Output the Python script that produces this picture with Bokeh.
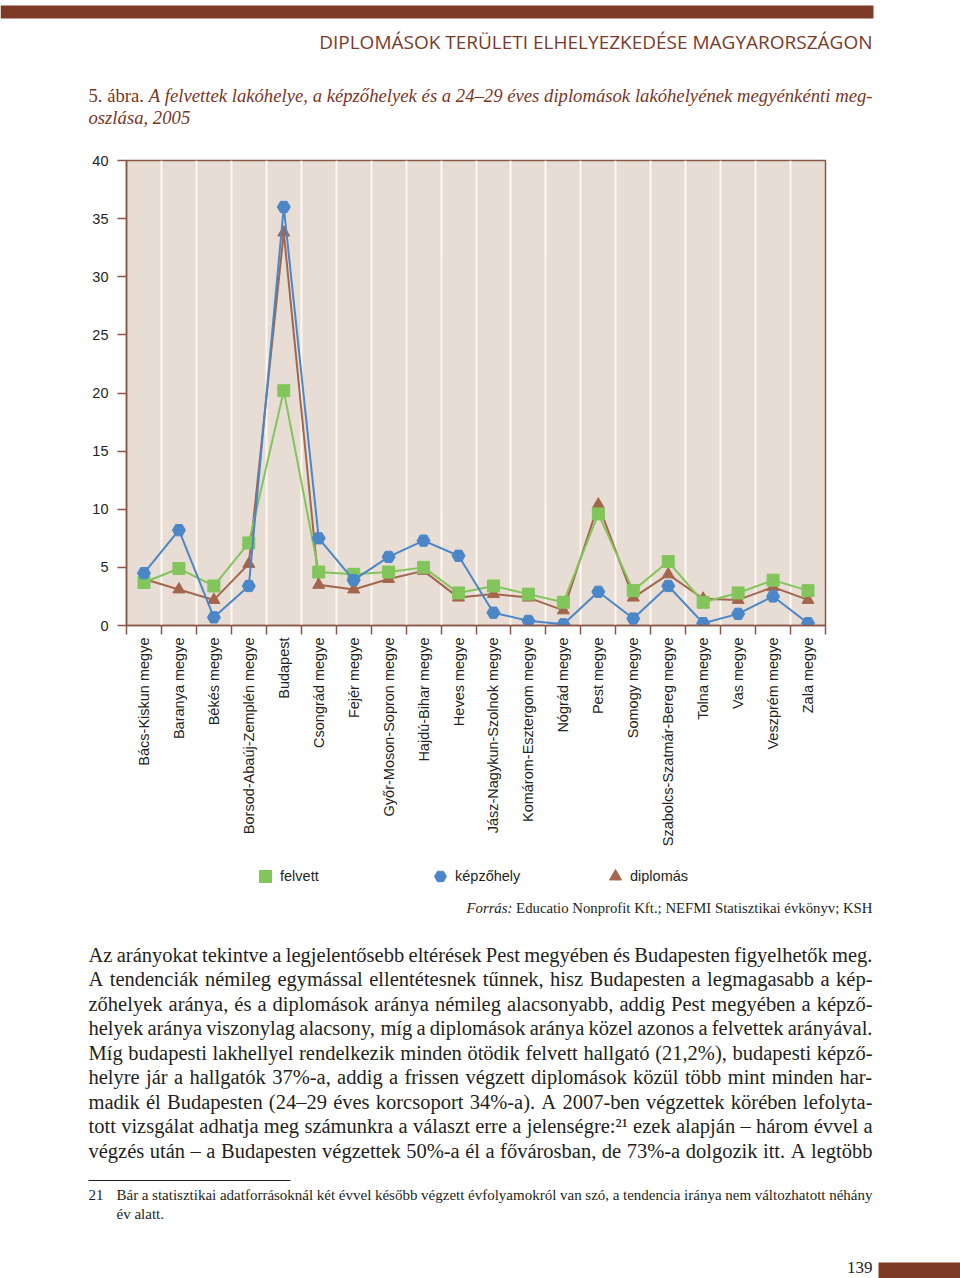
import unicodedata
import numpy as np
from bokeh.plotting import figure
from bokeh.models import Range1d, FixedTicker, Legend, LegendItem
from bokeh.layouts import column
from bokeh.core.properties import value
from bokeh.embed import file_html
from bokeh.resources import INLINE

# ---------------- data ----------------
counties = ["Bács-Kiskun megye", "Baranya megye", "Békés megye", "Borsod-Abaúj-Zemplén megye",
            "Budapest", "Csongrád megye", "Fejér megye", "Győr-Moson-Sopron megye",
            "Hajdú-Bihar megye", "Heves megye", "Jász-Nagykun-Szolnok megye",
            "Komárom-Esztergom megye", "Nógrád megye", "Pest megye", "Somogy megye",
            "Szabolcs-Szatmár-Bereg megye", "Tolna megye", "Vas megye", "Veszprém megye",
            "Zala megye"]
felvett = [3.7, 4.9, 3.4, 7.1, 20.2, 4.6, 4.4, 4.6, 5.0, 2.8, 3.4, 2.7, 2.0, 9.6, 3.0, 5.5, 2.0, 2.8, 3.9, 3.0]
kepzohely = [4.5, 8.2, 0.7, 3.4, 36.0, 7.5, 3.9, 5.9, 7.3, 6.0, 1.1, 0.4, 0.1, 2.9, 0.6, 3.4, 0.2, 1.0, 2.5, 0.2]
diplomas = [4.0, 3.1, 2.2, 5.3, 33.8, 3.5, 3.1, 4.0, 4.7, 2.4, 2.7, 2.4, 1.3, 10.4, 2.4, 4.4, 2.3, 2.2, 3.3, 2.2]
series_names = ["felvett", "képzőhely", "diplomás"]
y_ticks = [0, 5, 10, 15, 20, 25, 30, 35, 40]

running_head = "DIPLOMÁSOK TERÜLETI ELHELYEZKEDÉSE MAGYARORSZÁGON"
caption_lead = "5. ábra."
caption_line1 = "A felvettek lakóhelye, a képzőhelyek és a 24–29 éves diplomások lakóhelyének megyénkénti meg-"
caption_line2 = "oszlása, 2005"
source_lead = "Forrás:"
source_rest = "Educatio Nonprofit Kft.; NEFMI Statisztikai évkönyv; KSH"
body_lines = [
    "Az arányokat tekintve a legjelentősebb eltérések Pest megyében és Budapesten figyelhetők meg.",
    "A tendenciák némileg egymással ellentétesnek tűnnek, hisz Budapesten a legmagasabb a kép-",
    "zőhelyek aránya, és a diplomások aránya némileg alacsonyabb, addig Pest megyében a képző-",
    "helyek aránya viszonylag alacsony, míg a diplomások aránya közel azonos a felvettek arányával.",
    "Míg budapesti lakhellyel rendelkezik minden ötödik felvett hallgató (21,2%), budapesti képző-",
    "helyre jár a hallgatók 37%-a, addig a frissen végzett diplomások közül több mint minden har-",
    "madik él Budapesten (24–29 éves korcsoport 34%-a). A 2007-ben végzettek körében lefolyta-",
    "tott vizsgálat adhatja meg számunkra a választ erre a jelenségre:²¹ ezek alapján – három évvel a",
    "végzés után – a Budapesten végzettek 50%-a él a fővárosban, de 73%-a dolgozik itt. A legtöbb",
]
footnote_num = "21"
footnote_lines = [
    "Bár a statisztikai adatforrásoknál két évvel később végzett évfolyamokról van szó, a tendencia iránya nem változhatott néhány",
    "év alatt.",
]
page_number = "139"

# ---------------- style ----------------
W = 960
GREEN = "#82c55b"
BLUE = "#4a86c8"
BROWN = "#a3654c"
AXIS = "#8a5646"
BG = "#e8ddd5"
GRID = "#fdf8f0"
BAR = "#7d3b27"
DARK_RED = "#7a3624"
TEXT = "#231f20"
SANS = "Liberation Sans"
SERIF = "Liberation Serif"

# Times / Liberation Serif advance widths (1/1000 em)
TR = dict(zip(" !%(),-./0123456789:;?", [250, 333, 833, 333, 333, 250, 333, 250, 278] + [500] * 10 + [278, 278, 444]))
TR.update(dict(zip("ABCDEFGHIJKLMNOPQRSTUVWXYZ",
                   [722, 667, 667, 722, 611, 556, 722, 722, 333, 389, 722, 611, 889, 722, 722, 556, 722, 667, 556, 611, 722, 722, 944, 722, 722, 611])))
TR.update(dict(zip("abcdefghijklmnopqrstuvwxyz",
                   [444, 500, 444, 500, 444, 333, 500, 500, 278, 278, 500, 278, 778, 500, 500, 500, 500, 333, 389, 278, 500, 500, 722, 500, 500, 444])))
TR.update({"–": 500, "²": 300, "¹": 300})
TI = dict(TR)
TI.update({":": 333, ";": 333})
TI.update(dict(zip("ABCDEFGHIJKLMNOPQRSTUVWXYZ",
                   [611, 611, 667, 722, 611, 611, 722, 722, 333, 444, 667, 556, 833, 667, 722, 611, 722, 611, 500, 556, 722, 611, 833, 611, 556, 556])))
TI.update(dict(zip("abcdefghijklmnopqrstuvwxyz",
                   [500, 500, 444, 500, 444, 278, 500, 500, 278, 278, 444, 278, 722, 500, 500, 500, 500, 389, 389, 278, 500, 444, 667, 444, 444, 389])))


def em_width(s, italic=False):
    tbl = TI if italic else TR
    tot = 0
    for ch in s:
        base = unicodedata.normalize("NFD", ch)[0]
        tot += tbl.get(ch, tbl.get(base, 500))
    return tot / 1000.0


def place_words(fig, words, x0, x1, y, size, color, justify=True, font=SERIF):
    widths = [em_width(w, it) * size for w, it in words]
    if justify and len(words) > 1:
        gap = (x1 - x0 - sum(widths)) / (len(words) - 1)
    else:
        gap = 0.25 * size
    xs, x = [], x0
    for wd in widths:
        xs.append(x)
        x += wd + gap
    for it in (False, True):
        idx = [i for i, (_, s) in enumerate(words) if s == it]
        if not idx:
            continue
        fig.text(x=[xs[i] for i in idx], y=[y] * len(idx), text=[words[i][0] for i in idx],
                 text_font=value(font), text_font_size=value(f"{size:.2f}px"),
                 text_font_style=value("italic" if it else "normal"), text_color=color,
                 text_align="left", text_baseline="alphabetic")


def fit_size(word_lists, width, max_size, min_gap=0.22):
    best = max_size
    for words in word_lists:
        em = sum(em_width(w, it) for w, it in words) + min_gap * (len(words) - 1)
        best = min(best, width / em)
    return best


def blank_fig(height):
    f = figure(width=W, height=height, x_range=Range1d(0, W), y_range=Range1d(height, 0),
               output_backend="svg", toolbar_location=None, x_axis_type=None, y_axis_type=None,
               min_border=0, frame_align=False)
    f.outline_line_color = None
    f.grid.visible = False
    f.background_fill_color = "white"
    f.border_fill_color = "white"
    return f


# ---------------- header (page y 0-140) ----------------
H1 = 140
h = blank_fig(H1)
h.quad(left=0, right=873, top=5, bottom=18, fill_color=BAR, line_color=None)
h.text(x=[872], y=[41], text=[running_head], text_font=value("Open Sans"),
       text_font_size=value("19px"), text_color="#7a3a2a", text_align="right",
       text_baseline="alphabetic")
cap_words = [(w, False) for w in caption_lead.split(" ")] + [(w, True) for w in caption_line1.split(" ")]
cap_size = fit_size([cap_words], 784, 19.5, 0.25)
place_words(h, cap_words, 88, 872, 95, cap_size, DARK_RED, justify=True)
place_words(h, [(w, True) for w in caption_line2.split(" ")], 88, 872, 117, cap_size, DARK_RED, justify=False)

# ---------------- chart (page y 140-855) ----------------
H2 = 715
n = len(counties)
xc = [i + 0.5 for i in range(n)]
p = figure(width=W, height=H2, x_range=Range1d(0, n), y_range=Range1d(0, 40),
           output_backend="svg", toolbar_location=None, frame_align=False,
           min_border_left=126, min_border_right=135, min_border_top=20, min_border_bottom=230)
p.background_fill_color = BG
p.border_fill_color = "white"
p.outline_line_color = AXIS
p.outline_line_width = 1.5

p.xgrid.ticker = FixedTicker(ticks=list(range(1, n)))
p.xgrid.grid_line_color = GRID
p.xgrid.grid_line_width = 2
p.ygrid.grid_line_color = None

xa = p.xaxis[0]
xa.ticker = FixedTicker(ticks=xc, minor_ticks=list(range(0, n + 1)))
xa.major_label_overrides = {x: c for x, c in zip(xc, counties)}
xa.major_label_orientation = np.pi / 2
xa.major_tick_line_color = None
xa.major_tick_out = 9
xa.major_tick_in = 0
xa.minor_tick_line_color = AXIS
xa.minor_tick_line_width = 1.5
xa.minor_tick_out = 9
xa.minor_tick_in = 0
xa.major_label_standoff = 3

ya = p.yaxis[0]
ya.ticker = FixedTicker(ticks=y_ticks)
ya.major_tick_out = 9
ya.major_tick_in = 0
ya.major_tick_line_color = AXIS
ya.major_tick_line_width = 1.5
ya.minor_tick_line_color = None
ya.major_label_standoff = 9

for ax in (xa, ya):
    ax.axis_line_color = AXIS
    ax.axis_line_width = 1.5
    ax.major_label_text_font = SANS
    ax.major_label_text_font_size = "14.5px"
    ax.major_label_text_color = TEXT

series = [felvett, kepzohely, diplomas]
marker_styles = [("square", GREEN, 12), ("hex", BLUE, 13), ("triangle", BROWN, 12)]
for k in (2, 0, 1):
    mk, col, sz = marker_styles[k]
    p.line(xc, series[k], line_color=col, line_width=2)
    p.scatter(xc, series[k], marker=mk, size=sz, fill_color=col, line_color=col)

# ---------------- footer (page y 855-1278) ----------------
H3 = 1278 - H1 - H2
OFF = H1 + H2
f = blank_fig(H3)

# legend keys: hidden copies of the series carry the marker styles into this panel
items = []
for name, vals, (mk, col, sz) in zip(series_names, series, marker_styles):
    r = f.scatter(x=xc, y=vals, marker=mk, size=sz, fill_color=col, line_color=col, visible=False)
    items.append(LegendItem(label=name, renderers=[r]))
legend = Legend(items=items, orientation="horizontal", location=(250, H3 - (861 - OFF) - 30),
                margin=0, padding=0, spacing=5, label_width=140, glyph_width=30, glyph_height=30,
                label_standoff=0, border_line_color=None, background_fill_alpha=0,
                inactive_fill_alpha=0,
                label_text_font=SANS, label_text_font_size="14.5px", label_text_color=TEXT)
f.add_layout(legend)

src_words = [(source_lead, True)] + [(w, False) for w in source_rest.split(" ")]
src_em = sum(em_width(w, it) for w, it in src_words) + 0.25 * (len(src_words) - 1)
src_size = min(16.0, 406 / src_em)
place_words(f, src_words, 872 - src_em * src_size, 872, 907 - OFF, src_size, TEXT, justify=True)

body_words = [[(w, False) for w in ln.split(" ")] for ln in body_lines]
body_size = fit_size(body_words, 784, 20.5, 0.2)
for k, words in enumerate(body_words):
    place_words(f, words, 88, 872, 954 - OFF + 24.5 * k, body_size, TEXT, justify=True)

f.line(x=[88, 290], y=[1180 - OFF, 1180 - OFF], line_color=TEXT, line_width=1)
fn_words = [[(w, False) for w in ln.split(" ")] for ln in footnote_lines]
fn_size = fit_size(fn_words[:1], 756, 15.0)
f.text(x=[88], y=[1194 - OFF], text=[footnote_num], text_font=value(SERIF),
       text_font_size=value(f"{fn_size:.2f}px"), text_color=TEXT, text_align="left",
       text_baseline="alphabetic")
place_words(f, fn_words[0], 116, 872, 1194 - OFF, fn_size, TEXT, justify=True)
place_words(f, fn_words[1], 116, 872, 1213 - OFF, fn_size, TEXT, justify=False)

f.quad(left=878, right=W, top=1262 - OFF, bottom=H3, fill_color=BAR, line_color=None)
f.text(x=[872], y=[1267 - OFF], text=[page_number], text_font=value(SERIF), text_font_size=value("17px"),
       text_color=TEXT, text_align="right", text_baseline="alphabetic")

layout = column(h, p, f, spacing=0)
open("out.html", "w").write(file_html(layout, INLINE))
